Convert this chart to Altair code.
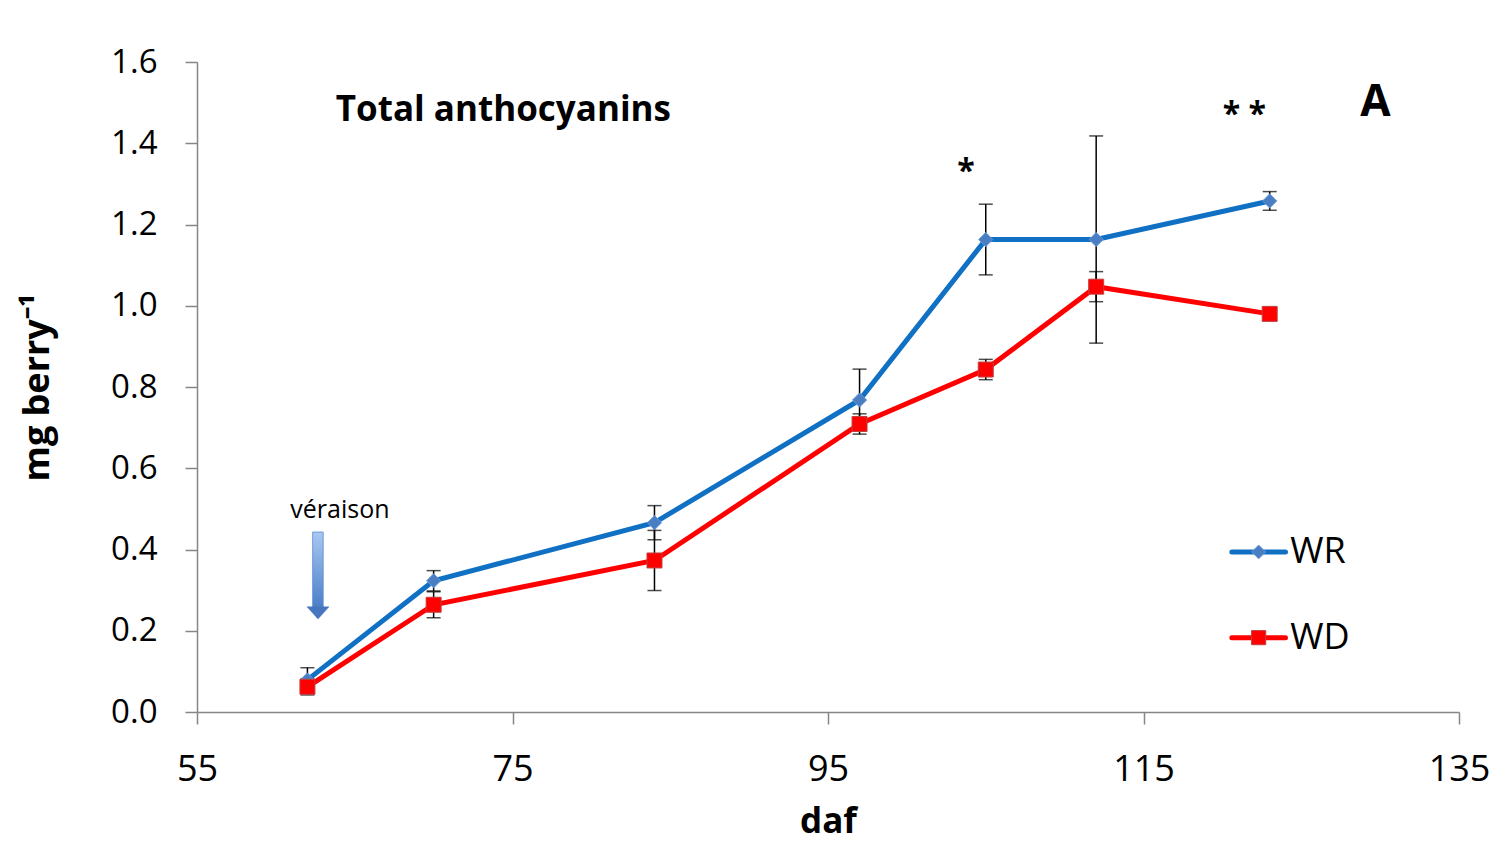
import altair as alt
import pandas as pd

# ---- data ----
daf = [62, 70, 84, 97, 105, 112, 123]
wr = [0.079, 0.323, 0.466, 0.768, 1.163, 1.163, 1.258]
wr_err = [0.030, 0.025, 0.042, 0.076, 0.087, 0.255, 0.023]
wd = [0.062, 0.264, 0.373, 0.709, 0.843, 1.047, 0.980]
wd_err = [0.020, 0.032, 0.074, 0.025, 0.025, 0.037, 0.008]

x_ticks = [55, 75, 95, 115, 135]
y_ticks = [0.0, 0.2, 0.4, 0.6, 0.8, 1.0, 1.2, 1.4, 1.6]

BLUE = "#1070C4"
BLUE_MARK = "#4A7EC2"
RED = "#FF0000"
FONT = "Open Sans"

wr_df = pd.DataFrame({"daf": daf, "val": wr,
                      "lo": [v - e for v, e in zip(wr, wr_err)],
                      "hi": [v + e for v, e in zip(wr, wr_err)]})
wd_df = pd.DataFrame({"daf": daf, "val": wd,
                      "lo": [v - e for v, e in zip(wd, wd_err)],
                      "hi": [v + e for v, e in zip(wd, wd_err)]})

xs = alt.Scale(domain=[55, 135], nice=False, zero=False)
ys = alt.Scale(domain=[0, 1.6], nice=False)
xaxis = alt.Axis(values=x_ticks, title="daf", format="d", tickSize=12,
                 labelPadding=28, titlePadding=17, labelFontSize=36,
                 labelFlush=False, titleFontSize=35)
yaxis = alt.Axis(values=y_ticks, title="mg berry\u207b\u00b9", format=".1f",
                 tickSize=12, labelPadding=28, titlePadding=54, labelFontSize=33,
                 titleFontSize=36)


def X(field):
    return alt.X(field, type="quantitative", scale=xs, axis=xaxis)


def Y(field):
    return alt.Y(field, type="quantitative", scale=ys, axis=yaxis)


def series(df, color, shape, fill, stroke, size):
    line = alt.Chart(df).mark_line(color=color, strokeWidth=5).encode(
        x=X("daf"), y=Y("val"))
    bar = alt.Chart(df).mark_rule(color="black", strokeWidth=1.5).encode(
        x=X("daf"), y=Y("lo"), y2="hi")
    cap_lo = alt.Chart(df).mark_tick(orient="horizontal", color="black",
                                     size=14, thickness=1.5).encode(
        x=X("daf"), y=Y("lo"))
    cap_hi = alt.Chart(df).mark_tick(orient="horizontal", color="black",
                                     size=14, thickness=1.5).encode(
        x=X("daf"), y=Y("hi"))
    pts = alt.Chart(df).mark_point(shape=shape, filled=True, fill=fill,
                                   stroke=stroke, strokeWidth=1, size=size,
                                   opacity=1).encode(x=X("daf"), y=Y("val"))
    return line, bar, cap_lo, cap_hi, pts


wr_line, wr_bar, wr_lo, wr_hi, wr_pts = series(wr_df, BLUE, "diamond", BLUE_MARK, "#6A98D8", 200)
wd_line, wd_bar, wd_lo, wd_hi, wd_pts = series(wd_df, RED, "square", RED, "#C04040", 225)

# ---- legend (drawn inside the plot, as in the reference) ----
leg_series = ["WR", "WD"]
leg_y = [0.394, 0.183]
leg_colors = [BLUE, RED]
leg_shapes = ["diamond", "square"]
leg_fills = [BLUE_MARK, RED]
leg_strokes = ["#6A98D8", "#C04040"]
leg_layers = []
for name, yy, c, sh, fl, st in zip(leg_series, leg_y, leg_colors, leg_shapes, leg_fills, leg_strokes):
    ldf = pd.DataFrame({"daf": [120.6, 124.0], "val": [yy, yy]})
    leg_layers.append(alt.Chart(ldf).mark_line(color=c, strokeWidth=5, strokeCap="round").encode(
        x=X("daf"), y=Y("val")))
    pdf = pd.DataFrame({"daf": [122.3], "val": [yy]})
    leg_layers.append(alt.Chart(pdf).mark_point(shape=sh, filled=True, fill=fl, stroke=st,
                                                strokeWidth=1, size=190 if sh == "diamond" else 200,
                                                opacity=1).encode(x=X("daf"), y=Y("val")))
    tdf = pd.DataFrame({"daf": [124.3], "val": [yy], "t": [name]})
    leg_layers.append(alt.Chart(tdf).mark_text(align="left", baseline="middle", font=FONT,
                                               fontSize=36, color="black").encode(
        x=X("daf"), y=Y("val"), text="t:N"))

# ---- annotations ----
title_df = pd.DataFrame({"daf": [63.8], "val": [1.482], "t": ["Total anthocyanins"]})
title_txt = alt.Chart(title_df).mark_text(align="left", baseline="middle", font=FONT,
                                          fontSize=35, fontWeight="bold", color="black").encode(
    x=X("daf"), y=Y("val"), text="t:N")
panel_df = pd.DataFrame({"daf": [129.7], "val": [1.5], "t": ["A"]})
panel_txt = alt.Chart(panel_df).mark_text(align="center", baseline="middle", font=FONT,
                                          fontSize=44, fontWeight="bold", color="black").encode(
    x=X("daf"), y=Y("val"), text="t:N")
star_df = pd.DataFrame({"daf": [103.75, 121.4], "val": [1.33, 1.47], "t": ["*", "* *"]})
star_txt = alt.Chart(star_df).mark_text(align="center", baseline="middle", font=FONT,
                                        fontSize=32, fontWeight="bold", color="black").encode(
    x=X("daf"), y=Y("val"), text="t:N")
ver_df = pd.DataFrame({"daf": [64.06], "val": [0.497], "t": ["véraison"]})
ver_txt = alt.Chart(ver_df).mark_text(align="center", baseline="middle", font=FONT,
                                      fontSize=25, color="black").encode(
    x=X("daf"), y=Y("val"), text="t:N")

# arrow under "véraison"
shaft_df = pd.DataFrame({"x1": [62.33], "x2": [63.0], "y1": [0.443], "y2": [0.258]})
shaft = alt.Chart(shaft_df).mark_rect(
    stroke="#5B8BD0", strokeWidth=0.8,
    fill=alt.LinearGradient(gradient="linear",
                            stops=[alt.GradientStop(color="#A8C8F2", offset=0),
                                   alt.GradientStop(color="#4B7FC8", offset=1)],
                            x1=0, x2=0, y1=0, y2=1)).encode(
    x=X("x1"), x2="x2", y=Y("y1"), y2="y2")
head_df = pd.DataFrame({"daf": [62.67], "val": [0.244]})
head = alt.Chart(head_df).mark_point(shape="M-1,-0.55L1,-0.55L0,0.55Z", filled=True,
                                     fill="#4676BF", stroke="#4676BF", strokeWidth=0.5,
                                     size=484, opacity=1).encode(x=X("daf"), y=Y("val"))

chart = alt.layer(
    wr_line, wd_line,
    wr_bar, wr_lo, wr_hi, wd_bar, wd_lo, wd_hi,
    wr_pts, wd_pts,
    *leg_layers,
    title_txt, panel_txt, star_txt, ver_txt, shaft, head,
).properties(
    width=1262, height=650,
    autosize=alt.AutoSizeParams(type="none"),
    padding={"left": 197, "top": 62, "right": 35, "bottom": 134},
).configure_view(stroke=None).configure_axis(
    grid=False, domainColor="#868686", tickColor="#868686", domainWidth=1.5, tickWidth=1.5,
    labelFont=FONT, labelColor="black",
    titleFont=FONT, titleFontWeight="bold", titleColor="black",
)

chart.save("out.html", embed_options={"renderer": "svg", "actions": False})
